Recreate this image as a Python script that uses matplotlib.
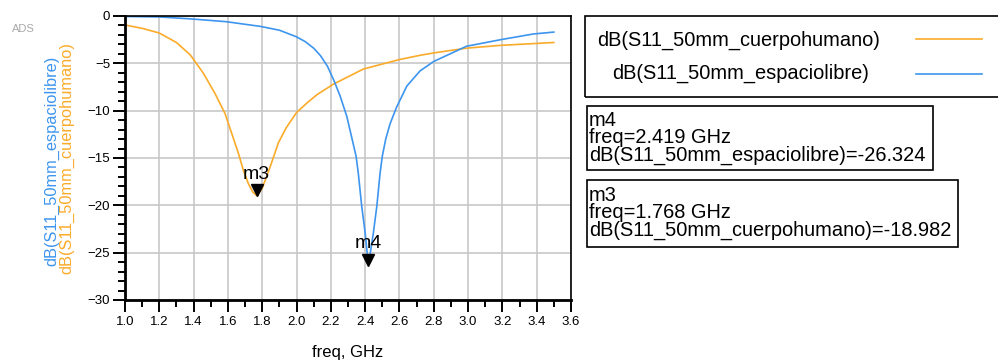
import numpy as np
import matplotlib.pyplot as plt
from matplotlib.patches import Rectangle
from matplotlib.lines import Line2D

plt.rcParams['font.family'] = ['Liberation Sans', 'DejaVu Sans']

freq_esp = [1.0, 1.2, 1.38, 1.59, 1.79, 1.90, 2.0, 2.05, 2.10, 2.14, 2.18, 2.22,
            2.254, 2.293, 2.32, 2.347, 2.36, 2.38, 2.40, 2.419, 2.448, 2.468, 2.487,
            2.50, 2.52, 2.545, 2.584, 2.643, 2.72, 2.80, 2.99, 3.19, 3.38, 3.50]
db_esp = [-0.05, -0.1, -0.3, -0.6, -1.1, -1.5, -2.2, -2.7, -3.4, -4.2, -5.3, -6.9,
          -8.45, -10.6, -12.7, -14.8, -16.6, -20.1, -22.9, -26.324, -22.9, -20.1, -16.6,
          -14.8, -13.0, -11.4, -9.6, -7.4, -5.8, -4.8, -3.2, -2.5, -1.9, -1.7]

freq_cue = [1.0, 1.1, 1.2, 1.3, 1.38, 1.457, 1.525, 1.583, 1.622, 1.661, 1.69, 1.719,
            1.745, 1.768, 1.80, 1.845, 1.894, 1.94, 2.0, 2.06, 2.12, 2.215, 2.39, 2.60,
            2.72, 2.80, 2.99, 3.19, 3.50]
db_cue = [-0.95, -1.3, -1.8, -2.8, -4.1, -6.05, -8.2, -10.3, -12.4, -14.5, -16.3, -17.7,
          -18.6, -18.982, -18.2, -16.0, -13.4, -11.8, -10.2, -9.2, -8.3, -7.2, -5.6, -4.6,
          -4.15, -3.9, -3.4, -3.1, -2.8]

markers = ['m3', 'm4']
marker_freq = [1.768, 2.419]
marker_db = [-18.982, -26.324]

blue = '#3d95ee'
orange = '#fbab2a'

fig = plt.figure(figsize=(9.98, 3.61), dpi=100)
ax = fig.add_axes([125/998, 1 - 300/361, 446/998, 284/361])

ax.plot(freq_cue, db_cue, color=orange, lw=1.2)
ax.plot(freq_esp, db_esp, color=blue, lw=1.2)

for name, f, d in zip(markers, marker_freq, marker_db):
    ax.plot(f, d + 0.55, marker='v', color='black', ms=9, ls='none')
    ax.text(f, d + 1.8, name, ha='center', va='baseline', fontsize=14)

ax.set_xlim(1.0, 3.6)
ax.set_ylim(-30, 0)
ax.set_xticks(np.arange(1.0, 3.61, 0.2))
ax.set_xticks(np.arange(1.1, 3.6, 0.2), minor=True)
ax.set_yticks(np.arange(-30, 1, 5))
ax.set_yticks(np.arange(-29, 0, 1), minor=True)
ax.set_xticklabels(['%.1f' % v for v in np.arange(1.0, 3.61, 0.2)])
ax.tick_params(axis='both', which='major', labelsize=9.5, width=1.4, length=8.6)
ax.tick_params(axis='both', which='minor', width=1.4, length=5)
ax.tick_params(axis='y', pad=2)
ax.tick_params(axis='x', pad=3)
ax.grid(True, color='#c8c8c8', lw=1.2)
for s in ax.spines.values():
    s.set_linewidth(1.2)
ax.spines['left'].set_linewidth(2)
ax.spines['bottom'].set_linewidth(2)
ax.set_xlabel('freq, GHz', fontsize=12, labelpad=12)

fig.text(52/998, 1 - 161/361, 'dB(S11_50mm_espaciolibre)', color=blue,
         rotation=90, ha='center', va='center', fontsize=11.8)
fig.text(67/998, 1 - 158/361, 'dB(S11_50mm_cuerpohumano)', color=orange,
         rotation=90, ha='center', va='center', fontsize=11.8)
fig.text(12/998, 1 - 29/361, 'ADS', color='#a8a8a8', fontsize=8, va='center')

# caja de leyenda
def caja(x0, y0, x1, y1):
    fig.add_artist(Rectangle((x0/998, 1 - y1/361), (x1 - x0)/998, (y1 - y0)/361,
                             transform=fig.transFigure, fill=False,
                             edgecolor='black', lw=1.2))

caja(585, 16, 1000, 97)
fig.text(597/998, 1 - 40/361, 'dB(S11_50mm_cuerpohumano)', fontsize=14.4, va='center')
fig.text(612/998, 1 - 73/361, 'dB(S11_50mm_espaciolibre)', fontsize=14.4, va='center')
fig.add_artist(Line2D([916/998, 982/998], [1 - 39/361, 1 - 39/361], color=orange,
                      lw=1.2, transform=fig.transFigure))
fig.add_artist(Line2D([916/998, 982/998], [1 - 74/361, 1 - 74/361], color=blue,
                      lw=1.2, transform=fig.transFigure))

caja(587, 106, 933, 170)
fig.text(589/998, 1 - 138/361,
         'm4\nfreq=2.419 GHz\ndB(S11_50mm_espaciolibre)=-26.324',
         fontsize=14.4, va='center', linespacing=0.88)
caja(587, 180, 958, 247)
fig.text(589/998, 1 - 213/361,
         'm3\nfreq=1.768 GHz\ndB(S11_50mm_cuerpohumano)=-18.982',
         fontsize=14.4, va='center', linespacing=0.88)

fig.savefig('out.png', dpi=100)
